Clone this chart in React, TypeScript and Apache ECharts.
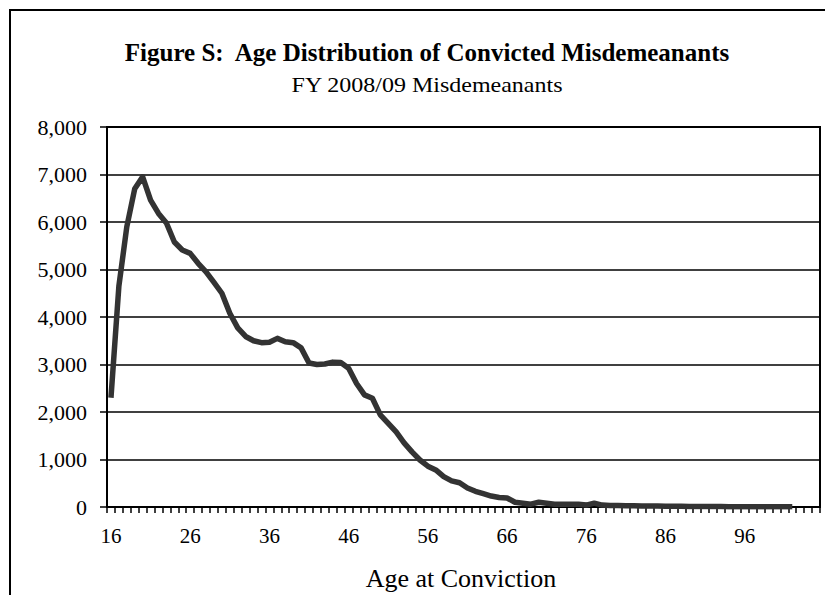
import React, { useEffect, useRef } from "react";
import * as echarts from "echarts";

const ages: string[] = [];
for (let a = 16; a <= 105; a++) ages.push(String(a));

// Convicted misdemeanants by age, FY 2008/09 (ages 16 .. 102)
const counts: number[] = [
  2300, 4650, 5900, 6700, 6950, 6460, 6180, 5980, 5580, 5410,
  5340, 5130, 4950, 4730, 4500, 4080, 3770, 3590, 3500, 3460,
  3470, 3550, 3480, 3460, 3350, 3030, 3000, 3010, 3050, 3040,
  2920, 2600, 2360, 2290, 1940, 1760, 1580, 1350, 1160, 990,
  860, 780, 640, 550, 510, 400, 330, 280, 230, 200,
  190, 100, 80, 60, 100, 80, 60, 60, 60, 60,
  40, 80, 40, 30, 30, 25, 25, 20, 20, 20,
  15, 15, 15, 10, 10, 10, 10, 10, 5, 5,
  5, 5, 5, 5, 5, 5, 5,
];

const yTicks = [0, 1000, 2000, 3000, 4000, 5000, 6000, 7000, 8000];

const titleText = "Figure S:  Age Distribution of Convicted Misdemeanants";
const subtitleText = "FY 2008/09 Misdemeanants";
const xName = "Age at Conviction";

const FONT = "'Liberation Serif', 'Times New Roman', serif";

export default function App() {
  const ref = useRef<HTMLDivElement>(null);
  useEffect(() => {
    if (!ref.current) return;
    const chart = echarts.init(ref.current, null, { renderer: "svg" });
    chart.setOption({
      animation: false,
      backgroundColor: "#ffffff",
      textStyle: { fontFamily: FONT, color: "#000" },
      graphic: [
        {
          type: "rect",
          shape: { x: 10, y: 10, width: 900, height: 700 },
          style: { fill: "none", stroke: "#000", lineWidth: 2 },
          silent: true,
        },
        {
          type: "text",
          x: 427,
          y: 52,
          style: {
            text: titleText,
            fontFamily: FONT,
            fontWeight: "bold",
            fontSize: 25,
            fill: "#000",
            textAlign: "center",
            textVerticalAlign: "middle",
          },
        },
        {
          type: "text",
          x: 427,
          y: 85,
          scaleX: 1.2,
          style: {
            text: subtitleText,
            fontFamily: FONT,
            fontSize: 20,
            fill: "#000",
            textAlign: "center",
            textVerticalAlign: "middle",
          },
        },
        {
          type: "text",
          x: 461,
          y: 578,
          style: {
            text: xName,
            fontFamily: FONT,
            fontSize: 26,
            fill: "#000",
            textAlign: "center",
            textVerticalAlign: "middle",
          },
        },
      ],
      grid: {
        left: 107,
        top: 127,
        right: 5,
        bottom: 88,
        show: true,
        borderColor: "#000",
        borderWidth: 2,
        backgroundColor: "transparent",
      },
      xAxis: {
        type: "category",
        data: ages,
        boundaryGap: true,
        axisLine: { lineStyle: { color: "#000", width: 2 } },
        axisTick: {
          show: true,
          interval: 0,
          length: 6,
          lineStyle: { color: "#000", width: 1.5 },
        },
        axisLabel: {
          interval: 9,
          margin: 18,
          fontFamily: FONT,
          fontSize: 21,
          color: "#000",
        },
        splitLine: { show: false },
      },
      yAxis: {
        type: "value",
        min: 0,
        max: 8000,
        interval: 1000,
        axisLine: { show: true, lineStyle: { color: "#000", width: 2 } },
        axisTick: { show: true, length: 7, lineStyle: { color: "#000", width: 1.5 } },
        axisLabel: {
          margin: 20,
          fontFamily: FONT,
          fontSize: 22,
          color: "#000",
          formatter: (v: number) =>
            yTicks.includes(v) ? v.toLocaleString("en-US") : "",
        },
        splitLine: { show: true, lineStyle: { color: "#000", width: 1.5 } },
      },
      series: [
        {
          type: "line",
          data: counts,
          showSymbol: false,
          symbol: "none",
          lineStyle: { color: "#333333", width: 5.5, join: "round", cap: "butt" },
          itemStyle: { color: "#333333" },
          z: 5,
        },
      ],
    });
    return () => chart.dispose();
  }, []);
  return (
    <div
      ref={ref}
      style={{ position: "absolute", left: 0, top: 0, width: 825, height: 595 }}
    />
  );
}
